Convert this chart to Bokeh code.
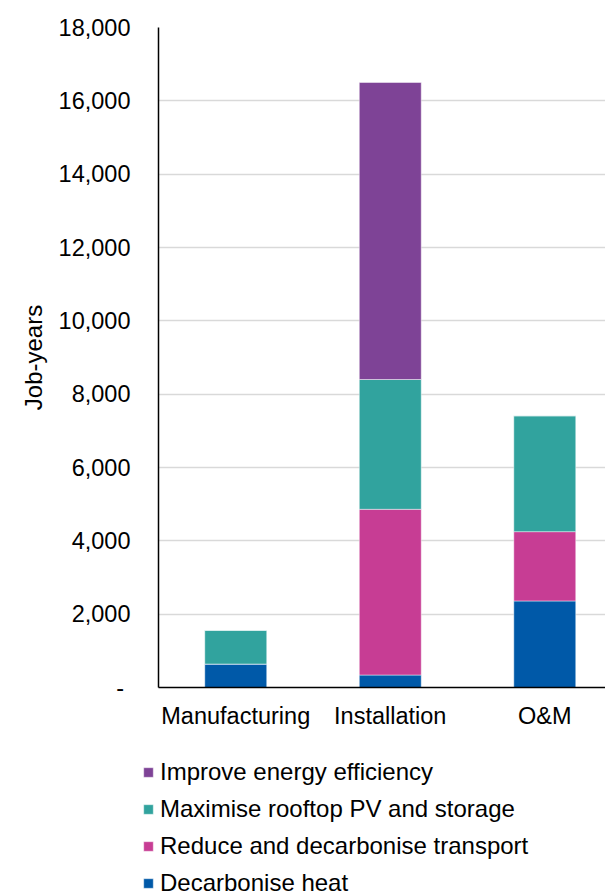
from bokeh.plotting import figure
from bokeh.layouts import column, row
from bokeh.models import (ColumnDataSource, Range1d, FixedTicker, NumeralTickFormatter,
                          Legend, LegendItem)
from bokeh.embed import file_html
from bokeh.resources import INLINE

# ---- data ----
categories = ["Manufacturing", "Installation", "O&M"]
series = ["Decarbonise heat", "Reduce and decarbonise transport",
          "Maximise rooftop PV and storage", "Improve energy efficiency"]
decarbonise_heat = [640, 340, 2360]
reduce_transport = [0, 4520, 1890]
rooftop_pv = [920, 3540, 3160]
energy_efficiency = [0, 8100, 0]
y_ticks = [0, 2000, 4000, 6000, 8000, 10000, 12000, 14000, 16000, 18000]
colors = ["#0059A8", "#C73D94", "#31A39E", "#7E4396"]

FONT = "Liberation Sans"
stack_cols = ["heat", "transport", "pv", "ee"]

xs = list(range(len(categories)))
source = ColumnDataSource(dict(
    x=xs,
    heat=decarbonise_heat,
    transport=reduce_transport,
    pv=rooftop_pv,
    ee=energy_efficiency,
))

p = figure(width=605, height=740, output_backend="svg", toolbar_location=None,
           x_range=Range1d(-0.5, 2.393), y_range=Range1d(0, 18000),
           min_border_left=158, min_border_right=0, min_border_top=27,
           min_border_bottom=53)

renderers = p.vbar_stack(stack_cols, x="x", width=0.401,
                         color=colors, source=source,
                         line_color="white", line_alpha=0.45, line_width=1)

p.outline_line_color = None
p.xgrid.visible = False
p.ygrid.grid_line_color = "#D9D9D9"
p.ygrid.grid_line_width = 1.4
p.ygrid.ticker = FixedTicker(ticks=y_ticks)

# y axis
ya = p.yaxis[0]
ya.ticker = FixedTicker(ticks=y_ticks)
ya.formatter = NumeralTickFormatter(format="0,0")
ya.major_label_overrides = {0: "-\u00a0"}
ya.axis_line_color = "black"
ya.axis_line_width = 1.5
ya.major_tick_line_color = None
ya.minor_tick_line_color = None
ya.major_tick_out = 0
ya.major_tick_in = 0
ya.major_label_standoff = 28
ya.major_label_text_font = FONT
ya.major_label_text_font_size = "23.5px"
ya.major_label_text_color = "black"
ya.axis_label = "Job-years"
ya.axis_label_text_font = FONT
ya.axis_label_text_font_size = "24px"
ya.axis_label_text_font_style = "normal"
ya.axis_label_text_color = "black"
ya.axis_label_standoff = 9

# x axis
xa = p.xaxis[0]
xa.ticker = FixedTicker(ticks=xs)
xa.major_label_overrides = {i: c for i, c in zip(xs, categories)}
xa.axis_line_color = "black"
xa.axis_line_width = 1.5
xa.major_tick_line_color = None
xa.minor_tick_line_color = None
xa.major_tick_out = 0
xa.major_tick_in = 0
xa.major_label_standoff = 15
xa.major_label_text_font = FONT
xa.major_label_text_font_size = "23.5px"
xa.major_label_text_color = "black"

# legend figure below the chart (legend only; its bars lie outside its visible range)
lf = figure(width=605, height=156, output_backend="svg", toolbar_location=None,
            x_range=Range1d(-100, -99), y_range=Range1d(0, 1),
            x_axis_location=None, y_axis_location=None,
            min_border_left=142, min_border_top=18, min_border_right=0,
            min_border_bottom=0)
lf.outline_line_color = None
lf.grid.visible = False
swatches = lf.vbar_stack(stack_cols, x="x", width=0.401, color=colors, source=source,
                         line_color="white", line_alpha=0.45, line_width=1)
items = [LegendItem(label=series[i], renderers=[swatches[i]]) for i in reversed(range(4))]
legend = Legend(items=items, location="top_left", orientation="vertical",
                padding=0, margin=0, spacing=9, label_height=27,
                glyph_width=12, glyph_height=12, label_standoff=6,
                label_text_font=FONT, label_text_font_size="24px",
                label_text_color="black",
                border_line_alpha=0, background_fill_alpha=0)
lf.add_layout(legend, "center")

layout = column(p, row(lf), spacing=0)
open("out.html", "w").write(file_html(layout, INLINE))
